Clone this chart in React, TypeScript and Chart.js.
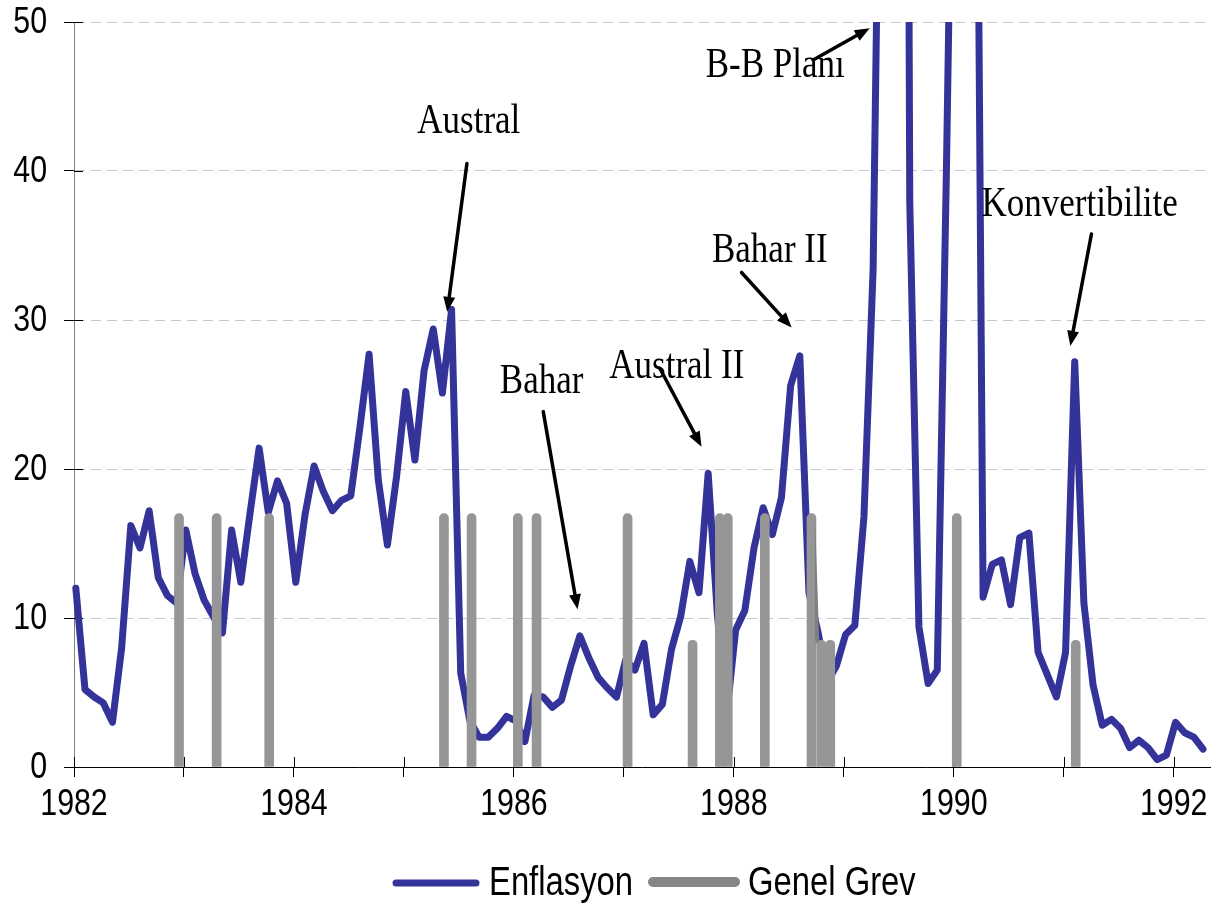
import React, { useEffect, useRef } from 'react';
import { Chart, registerables } from 'chart.js';

Chart.register(...registerables);

// Monthly inflation (%), January 1982 – April 1992
const inflation1982 = [12.0, 5.2, 4.7, 4.3, 3.0, 8.0, 16.2, 14.7, 17.2, 12.7, 11.5, 11.0];
const inflation1983 = [15.9, 13.0, 11.2, 10.1, 9.0, 15.9, 12.4, 17.0, 21.4, 17.1, 19.2, 17.7];
const inflation1984 = [12.4, 16.9, 20.2, 18.5, 17.2, 17.9, 18.2, 22.8, 27.7, 19.3, 14.9, 19.5];
const inflation1985 = [25.2, 20.6, 26.6, 29.4, 25.1, 30.7, 6.3, 3.1, 2.0, 2.0, 2.6, 3.4];
const inflation1986 = [3.1, 1.7, 4.8, 4.7, 4.0, 4.5, 6.8, 8.8, 7.3, 6.0, 5.3, 4.7];
const inflation1987 = [7.2, 6.5, 8.3, 3.5, 4.2, 7.9, 10.1, 13.8, 11.7, 19.7, 10.3, 3.4];
const inflation1988 = [9.2, 10.5, 14.7, 17.4, 15.6, 18.1, 25.6, 27.6, 11.7, 9.0, 5.7, 6.8];
const inflation1989 = [8.9, 9.5, 16.8, 33.4, 78.5, 114.5, 196.6, 37.9, 9.4, 5.6, 6.5, 40.1];
const inflation1990 = [79.2, 61.6, 95.5, 11.4, 13.6, 13.9, 10.9, 15.4, 15.7, 7.7, 6.2, 4.7];
const inflation1991 = [7.7, 27.2, 11.0, 5.5, 2.8, 3.2, 2.6, 1.3, 1.8, 1.3, 0.5, 0.8];
const inflation1992 = [3.0, 2.3, 2.0, 1.2];

// General strikes (Genel Grev): date (fractional year) and bar level
const strikeDates = [
  1982.955, 1983.297, 1983.775, 1985.364, 1985.615, 1986.036, 1986.206, 1987.034,
  1987.625, 1987.873, 1987.945, 1988.282, 1988.706, 1988.795, 1988.877, 1990.027, 1991.109,
];
const strikeLevels = [17, 17, 17, 17, 17, 17, 17, 17, 8.5, 17, 17, 17, 17, 8.5, 8.5, 17, 8.5];

// Axis ticks
const yearTicks = [1982, 1983, 1984, 1985, 1986, 1987, 1988, 1989, 1990, 1991, 1992];
const yTicks = [0, 10, 20, 30, 40, 50];

// Legend entries
const legendLabels = ['Enflasyon', 'Genel Grev'];

// Annotations (data coordinates)
const noteTexts = ['Austral', 'Bahar', 'Austral II', 'Bahar II', 'B-B Planı', 'Konvertibilite'];
const noteX = [1985.59, 1986.252, 1987.482, 1988.327, 1988.377, 1991.145];
const noteY = [42.55, 25.1, 26.1, 33.9, 46.33, 36.98];
const arrowFromX = [1985.573, 1986.267, 1987.327, 1988.07, 1988.721, 1991.252];
const arrowFromY = [40.5, 23.85, 26.76, 33.19, 47.45, 35.77];
const arrowToX = [1985.394, 1986.579, 1987.706, 1988.525, 1989.236, 1991.06];
const arrowToY = [30.55, 10.58, 21.5, 29.5, 49.58, 28.26];

const inflation = [
  ...inflation1982, ...inflation1983, ...inflation1984, ...inflation1985, ...inflation1986,
  ...inflation1987, ...inflation1988, ...inflation1989, ...inflation1990, ...inflation1991,
  ...inflation1992,
];

const SANS = "'Liberation Sans', Arial, sans-serif";
const SERIF = "'Liberation Serif', 'Times New Roman', serif";
const LINE_COLOR = '#333399';
const BAR_COLOR = '#969696';
const NARROW_X = 0.82;

function narrowText(ctx: any, txt: string, x: number, y: number, size: number, align: string, baseline: string) {
  ctx.save();
  ctx.translate(x, y);
  ctx.scale(NARROW_X, 1);
  ctx.font = `${size}px ${SANS}`;
  ctx.fillStyle = '#000';
  ctx.textAlign = align;
  ctx.textBaseline = baseline;
  ctx.fillText(txt, 0, 0);
  ctx.restore();
}

const axisDecor = {
  id: 'axisDecor',
  beforeDatasetsDraw(chart: any) {
    const { ctx, chartArea } = chart;
    const x = chart.scales.x;
    const y = chart.scales.y;
    ctx.save();
    ctx.strokeStyle = '#000';
    ctx.lineWidth = 1;
    ctx.beginPath();
    y.ticks.forEach((t: any) => {
      const py = Math.round(y.getPixelForValue(t.value)) + 0.5;
      ctx.moveTo(chartArea.left, py);
      ctx.lineTo(chartArea.left + 9, py);
    });
    x.ticks.forEach((t: any) => {
      const px = Math.round(x.getPixelForValue(t.value)) + 0.5;
      ctx.moveTo(px, chartArea.bottom);
      ctx.lineTo(px, chartArea.bottom - 10);
    });
    ctx.stroke();
    ctx.restore();
  },
  afterDraw(chart: any) {
    const { ctx, chartArea } = chart;
    const x = chart.scales.x;
    const y = chart.scales.y;
    y.ticks.forEach((t: any) => {
      const py = y.getPixelForValue(t.value);
      narrowText(ctx, String(t.value), chartArea.left - 27, py + 1, 37, 'right', 'middle');
    });
    x.ticks.forEach((t: any) => {
      if (t.value % 2 !== 0) return;
      const px = x.getPixelForValue(t.value);
      narrowText(ctx, String(t.value), px, chartArea.bottom + 48, 37, 'center', 'alphabetic');
    });
  },
};

// Sloped connector between the adjacent strike bars of late 1988
const strikeRamp = {
  id: 'strikeRamp',
  afterDatasetsDraw(chart: any) {
    const { ctx } = chart;
    const x = chart.scales.x;
    const y = chart.scales.y;
    const xa = x.getPixelForValue(strikeDates[12]) + 4.5;
    const xb = x.getPixelForValue(strikeDates[13]) - 2;
    const ya = y.getPixelForValue(strikeLevels[12]) + 3;
    const yb = y.getPixelForValue(strikeLevels[13]) + 1;
    ctx.save();
    ctx.fillStyle = '#7f7f7f';
    ctx.beginPath();
    ctx.moveTo(xa - 1, ya);
    ctx.lineTo(xb, yb);
    ctx.lineTo(xa - 1, yb);
    ctx.closePath();
    ctx.fill();
    ctx.restore();
  },
};

const annotations = {
  id: 'annotations',
  afterDatasetsDraw(chart: any) {
    const { ctx } = chart;
    const x = chart.scales.x;
    const y = chart.scales.y;
    ctx.save();
    noteTexts.forEach((txt, i) => {
      const tx = x.getPixelForValue(noteX[i]);
      const ty = y.getPixelForValue(noteY[i]);
      ctx.save();
      ctx.translate(tx, ty);
      ctx.scale(1, 1.22);
      ctx.font = `35px ${SERIF}`;
      ctx.fillStyle = '#000';
      ctx.textAlign = 'center';
      ctx.textBaseline = 'alphabetic';
      ctx.fillText(txt, 0, 0);
      ctx.restore();

      const x1 = x.getPixelForValue(arrowFromX[i]);
      const y1 = y.getPixelForValue(arrowFromY[i]);
      const x2 = x.getPixelForValue(arrowToX[i]);
      const y2 = y.getPixelForValue(arrowToY[i]);
      const ang = Math.atan2(y2 - y1, x2 - x1);
      const headLen = 15;
      const headHalf = 6;
      const bx = x2 - Math.cos(ang) * headLen;
      const by = y2 - Math.sin(ang) * headLen;
      ctx.strokeStyle = '#000';
      ctx.lineWidth = 3.5;
      ctx.lineCap = 'round';
      ctx.beginPath();
      ctx.moveTo(x1, y1);
      ctx.lineTo(bx, by);
      ctx.stroke();
      ctx.fillStyle = '#000';
      ctx.beginPath();
      ctx.moveTo(x2, y2);
      ctx.lineTo(bx + Math.sin(ang) * headHalf, by - Math.cos(ang) * headHalf);
      ctx.lineTo(bx - Math.sin(ang) * headHalf, by + Math.cos(ang) * headHalf);
      ctx.closePath();
      ctx.fill();
    });
    ctx.restore();
  },
};

const customLegend = {
  id: 'customLegend',
  afterDraw(chart: any) {
    const { ctx } = chart;
    ctx.save();
    ctx.lineCap = 'round';
    ctx.strokeStyle = LINE_COLOR;
    ctx.lineWidth = 7;
    ctx.beginPath();
    ctx.moveTo(396, 883);
    ctx.lineTo(476, 883);
    ctx.stroke();
    ctx.strokeStyle = '#868686';
    ctx.lineWidth = 10;
    ctx.beginPath();
    ctx.moveTo(653, 882);
    ctx.lineTo(735, 882);
    ctx.stroke();
    ctx.restore();
    narrowText(ctx, legendLabels[0], 489, 895, 40, 'left', 'alphabetic');
    narrowText(ctx, legendLabels[1], 748, 895, 40, 'left', 'alphabetic');
  },
};

export default function App() {
  const canvasRef = useRef<HTMLCanvasElement | null>(null);

  useEffect(() => {
    const canvas = canvasRef.current;
    if (!canvas) return;
    const inflationPoints = inflation.map((v, i) => ({ x: 1982 + (i + 0.2) / 12, y: v }));
    const strikePoints = strikeDates.map((d, i) => ({ x: d, y: strikeLevels[i] }));

    const chart = new Chart(canvas, {
      type: 'line',
      data: {
        datasets: [
          {
            type: 'bar',
            label: legendLabels[1],
            data: strikePoints as any,
            backgroundColor: BAR_COLOR,
            barThickness: 9,
            borderRadius: 4.5,
            borderSkipped: 'start',
            order: 0,
          } as any,
          {
            type: 'line',
            label: legendLabels[0],
            data: inflationPoints as any,
            borderColor: LINE_COLOR,
            backgroundColor: LINE_COLOR,
            borderWidth: 7,
            pointRadius: 0,
            tension: 0,
            borderJoinStyle: 'round',
            borderCapStyle: 'round',
            clip: { left: 4, right: 4, top: 0, bottom: 4 },
            order: 1,
          } as any,
        ],
      },
      options: {
        animation: false,
        responsive: false,
        layout: { padding: { top: 22, right: 7, left: 0, bottom: 0 } },
        plugins: { legend: { display: false }, tooltip: { enabled: false } },
        scales: {
          x: {
            type: 'linear',
            min: 1982,
            max: 1992.33,
            offset: false,
            afterBuildTicks: (s: any) => {
              s.ticks = yearTicks.map((v) => ({ value: v }));
            },
            afterFit: (s: any) => {
              s.height = 137;
            },
            grid: {
              offset: false,
              drawOnChartArea: false,
              drawTicks: true,
              tickLength: 10,
              tickColor: '#000',
              tickWidth: 1,
            },
            border: { display: true, color: '#000', width: 1 },
            ticks: { display: false },
          },
          y: {
            min: 0,
            max: 50,
            afterBuildTicks: (s: any) => {
              s.ticks = yTicks.map((v) => ({ value: v }));
            },
            afterFit: (s: any) => {
              s.width = 74;
            },
            grid: {
              color: (c: any) => (c.tick && c.tick.value === 0 ? 'rgba(0,0,0,0)' : '#c8c8c8'),
              lineWidth: 1,
              drawTicks: true,
              tickLength: 10,
              tickColor: '#000',
              tickWidth: 1,
              tickBorderDash: [],
            },
            border: { display: true, color: '#808080', width: 1, dash: [10, 6] },
            ticks: { display: false },
          },
        },
      } as any,
      plugins: [axisDecor, strikeRamp, annotations, customLegend],
    });

    return () => {
      chart.destroy();
    };
  }, []);

  return (
    <div style={{ position: 'absolute', left: 0, top: 0, width: 1217, height: 904, background: '#fff' }}>
      <canvas ref={canvasRef} width={1217} height={904} style={{ display: 'block' }} />
    </div>
  );
}
